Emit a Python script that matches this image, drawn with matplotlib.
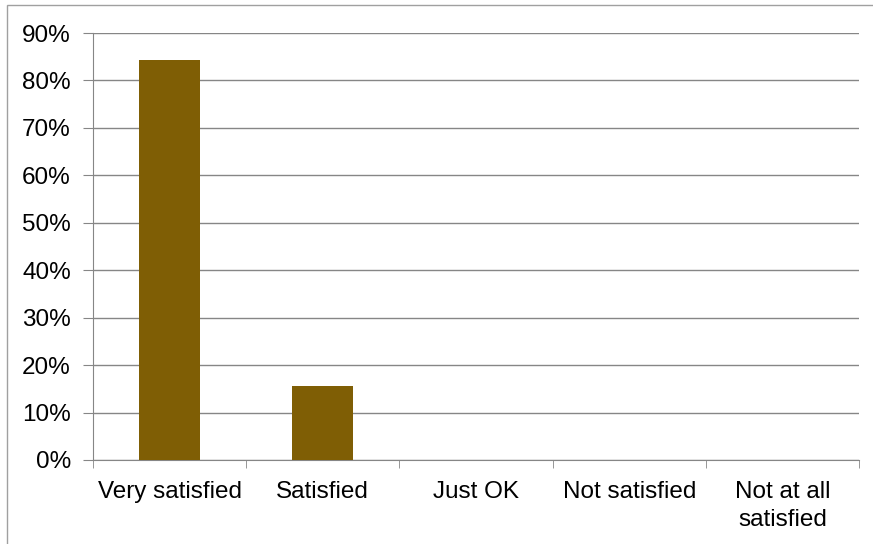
import matplotlib.pyplot as plt
from matplotlib.patches import Rectangle
from matplotlib.ticker import FixedLocator, PercentFormatter

# satisfaction survey results
categories = ["Very satisfied", "Satisfied", "Just OK", "Not satisfied", "Not at all\nsatisfied"]
shares = [84.4, 15.6, 0.0, 0.0, 0.0]
y_ticks = [0, 10, 20, 30, 40, 50, 60, 70, 80, 90]

plt.rcParams['font.family'] = ['Liberation Sans', 'DejaVu Sans']

fig = plt.figure(figsize=(8.73, 5.44), dpi=100)
ax = fig.add_axes([93 / 873, 84 / 544, 766 / 873, 427 / 544])

# outer chart frame (cut off on right and bottom like the original)
fig.patches.append(Rectangle((7 / 873, -0.1), 1.2, (544 - 5) / 544 + 0.1,
                             transform=fig.transFigure, fill=False,
                             edgecolor="#a0a0a0", linewidth=1.0))

x = list(range(len(categories)))
ax.bar(x, shares, width=0.4, color="#7f5e05", zorder=3)

ax.set_xlim(-0.5, len(categories) - 0.5)
ax.set_ylim(0, 90)
ax.yaxis.set_major_locator(FixedLocator(y_ticks))
ax.yaxis.set_major_formatter(PercentFormatter(decimals=0))
ax.grid(axis="y", color="#868686", linewidth=1.0, zorder=0)

ax.set_xticks(x)
ax.set_xticklabels(categories, linespacing=1.35)
ax.set_xticks([i - 0.5 for i in range(len(categories) + 1)], minor=True)
ax.tick_params(axis="x", which="major", length=0, pad=15, labelsize=17.5)
ax.tick_params(axis="x", which="minor", length=6, color="#868686", direction="out")
ax.tick_params(axis="y", length=7, color="#868686", labelsize=17.5, pad=9)

for side in ["top", "right"]:
    ax.spines[side].set_visible(False)
ax.spines["left"].set_color("#868686")
ax.spines["bottom"].set_color("#868686")

plt.savefig("out.png", dpi=100)
